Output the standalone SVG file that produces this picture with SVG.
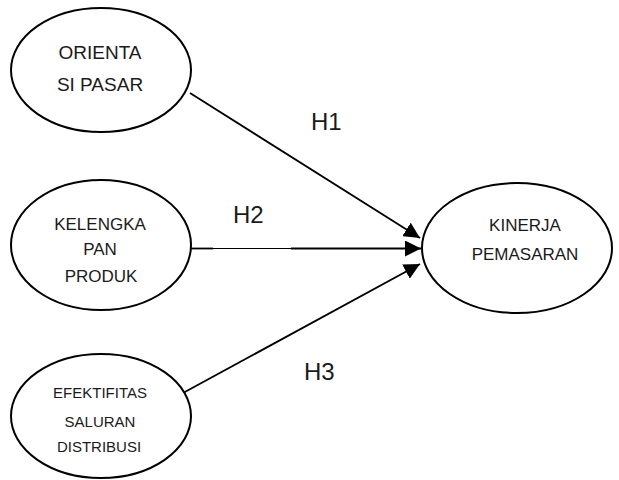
<svg xmlns="http://www.w3.org/2000/svg" width="619" height="480" viewBox="0 0 619 480">
<style>
.node{fill:#fff;stroke:#000;stroke-width:2}
.t{font-family:"Liberation Sans",Arial,sans-serif;fill:#1a1a1a;text-anchor:middle}
.h{font-family:"Liberation Sans",Arial,sans-serif;fill:#1a1a1a;font-size:24px}
.c{stroke:#000;stroke-width:1.8;fill:none}
</style>
<defs>
<marker id="arr" markerUnits="userSpaceOnUse" markerWidth="18" markerHeight="16" refX="16" refY="8" orient="auto">
<path d="M0,0 L16,8 L0,16 Z" fill="#000"/>
</marker>
</defs>
<rect width="619" height="480" fill="#fff"/>
<g id="connectors">
<line class="c" x1="190" y1="93" x2="420" y2="238" marker-end="url(#arr)"/>
<line class="c" x1="190" y1="248.5" x2="213" y2="248.5"/>
<line x1="213" y1="248.5" x2="291" y2="248.5" stroke="#000" stroke-width="1.2"/>
<line class="c" x1="291" y1="248.5" x2="421" y2="248.5" marker-end="url(#arr)"/>
<line class="c" x1="183" y1="393" x2="420" y2="264" marker-end="url(#arr)"/>
</g>
<g id="n1">
<ellipse class="node" cx="101" cy="70" rx="90" ry="62"/>
<text class="t" font-size="19" x="100" y="59">ORIENTA</text>
<text class="t" font-size="19" x="100" y="91">SI PASAR</text>
</g>
<g id="n2">
<ellipse class="node" cx="101" cy="245" rx="90" ry="65"/>
<text class="t" font-size="17" x="100" y="230">KELENGKA</text>
<text class="t" font-size="17" x="100" y="255">PAN</text>
<text class="t" font-size="17" x="101" y="282">PRODUK</text>
</g>
<g id="n3">
<ellipse class="node" cx="101" cy="416" rx="90" ry="62"/>
<text class="t" font-size="15" x="100" y="398">EFEKTIFITAS</text>
<text class="t" font-size="15" x="100" y="427">SALURAN</text>
<text class="t" font-size="15" x="99" y="452">DISTRIBUSI</text>
</g>
<g id="n4">
<ellipse class="node" cx="517" cy="248" rx="95" ry="65"/>
<text class="t" font-size="17" x="525" y="231">KINERJA</text>
<text class="t" font-size="17" x="525" y="260">PEMASARAN</text>
</g>
<g id="labels">
<text class="h" x="311" y="130">H1</text>
<text class="h" x="233" y="223">H2</text>
<text class="h" x="304" y="380">H3</text>
</g>
</svg>
